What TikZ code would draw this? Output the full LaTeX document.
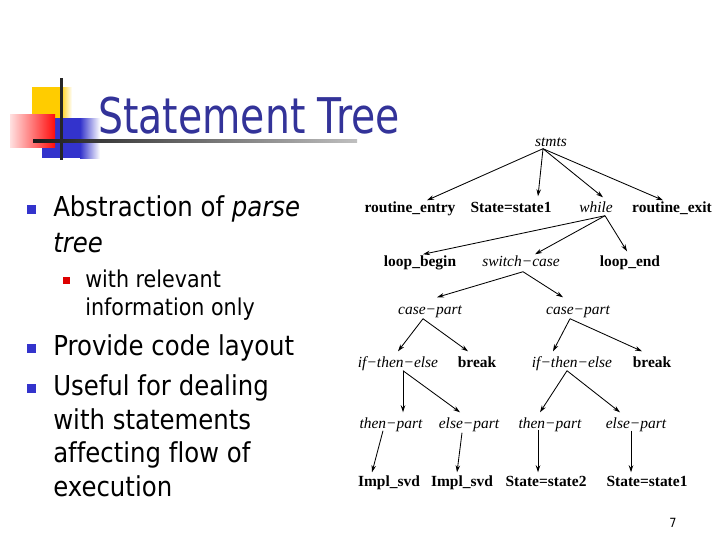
\documentclass[tikz,border=0pt]{standalone}
\usepackage{fontspec}
\setmainfont{Liberation Serif}
\newfontfamily\slidefont[FakeStretch=0.89,Ligatures={NoCommon}]{DejaVu Sans}
\newfontfamily\titlefont[FakeStretch=0.8,Ligatures={NoCommon}]{DejaVu Sans}
\usetikzlibrary{arrows.meta,calc}
\definecolor{titleblue}{HTML}{333399}
\definecolor{bulletblue}{HTML}{3333CC}
\definecolor{bulletred}{HTML}{DD0000}
\definecolor{decoyellow}{HTML}{FFCC00}

\begin{document}
\begin{tikzpicture}[x=0.025cm,y=-0.025cm,
  term/.style={font=\bfseries\fontsize{11}{13}\selectfont,inner sep=1pt,text height=7.5pt,text depth=2.5pt},
  nterm/.style={font=\itshape\fontsize{11}{13}\selectfont,inner sep=1pt,text height=7.5pt,text depth=2.5pt},
  arr/.style={-{Stealth[length=5pt,width=3.2pt]},line width=0.6pt},
  item/.style={anchor=base west,inner sep=0,font=\slidefont\fontsize{19.5}{23}\selectfont},
  subitem/.style={anchor=base west,inner sep=0,font=\slidefont\fontsize{16.5}{20}\selectfont},
  bullet/.style={fill=bulletblue,minimum size=6.4pt,inner sep=0},
  subbullet/.style={fill=bulletred,minimum size=5pt,inner sep=0}]
  \useasboundingbox (0,0) rectangle (720,540);

  % title decoration
  \fill[decoyellow] (32,87) rectangle (60,118);
  \shade[left color=decoyellow,right color=white] (60,87) rectangle (72,118);
  \fill[bulletblue] (42,118) rectangle (80,158);
  \shade[left color=bulletblue,right color=white] (80,118) rectangle (100,158);
  \shade[left color=red!12,right color=red!95] (10,114) rectangle (55,147);
  \fill[black!85] (59.5,78) rectangle (62.5,160);
  \shade[left color=black!90,right color=black!25] (33,139.5) rectangle (357,142.5);
  \node[anchor=base west,inner sep=0,text=titleblue,font=\titlefont\fontsize{35}{40}\selectfont]
    (title) at (98,133) {Statement Tree};

  % bullet list
  \node[bullet] (b1) at (31.5,209.5) {};
  \node[item] (t1) at (53,216) {Abstraction of \textit{parse}};
  \node[item] (t1b) at (53,252) {\textit{tree}};
  \node[subbullet] (s1) at (66.5,280.5) {};
  \node[subitem] (u1) at (85,287) {with relevant};
  \node[subitem] (u1b) at (85,315) {information only};
  \node[bullet] (b2) at (31.5,348) {};
  \node[item] (t2) at (53,355) {Provide code layout};
  \node[bullet] (b3) at (31.5,388) {};
  \node[item] (t3) at (53,395) {Useful for dealing};
  \node[item] (t3b) at (53,429) {with statements};
  \node[item] (t3c) at (53,462) {affecting flow of};
  \node[item] (t3d) at (53,496) {execution};

  % statement tree
  \node[nterm] (stmts)  at (551,143) {stmts};
  \node[term]  (rentry) at (410,209) {routine\_entry};
  \node[term]  (sstate) at (511,209) {State=state1};
  \node[nterm] (while)  at (596,209) {while};
  \node[term]  (rexit)  at (672,209) {routine\_exit};
  \node[term]  (lbegin) at (420,263) {loop\_begin};
  \node[nterm] (swcase) at (521,263) {switch−case};
  \node[term]  (lend)   at (630,263) {loop\_end};
  \node[nterm] (cpa)    at (430,311) {case−part};
  \node[nterm] (cpb)    at (578,311) {case−part};
  \node[nterm] (itea)   at (398,364) {if−then−else};
  \node[term]  (brka)   at (477,364) {break};
  \node[nterm] (iteb)   at (572,364) {if−then−else};
  \node[term]  (brkb)   at (652,364) {break};
  \node[nterm] (tpa)    at (391,425) {then−part};
  \node[nterm] (epa)    at (469,425) {else−part};
  \node[nterm] (tpb)    at (550,425) {then−part};
  \node[nterm] (epb)    at (636,425) {else−part};
  \node[term]  (impa)   at (389,483) {Impl\_svd};
  \node[term]  (impb)   at (462,483) {Impl\_svd};
  \node[term]  (sst2)   at (546,483) {State=state2};
  \node[term]  (sst1)   at (647,483) {State=state1};

  \draw[arr] ($(stmts.south)+(-8,-3)$) -- ($(rentry.north)+(17,0)$);
  \draw[arr] ($(stmts.south)+(-8,-3)$) -- ($(sstate.north)+(27,-4)$);
  \draw[arr] ($(stmts.south)+(-8,-3)$) -- ($(while.north)+(7,-3)$);
  \draw[arr] ($(stmts.south)+(-8,-3)$) -- ($(rexit.north)+(-9,0)$);
  \draw[arr] ($(while.south)+(9,-2)$) -- ($(lbegin.north)+(3,0)$);
  \draw[arr] ($(while.south)+(9,-2)$) -- ($(swcase.north)+(14,0)$);
  \draw[arr] ($(while.south)+(9,-2)$) -- ($(lend.north)+(-3,-3)$);
  \draw[arr] ($(swcase.south)+(2,0)$) -- ($(cpa.north)+(7,-5)$);
  \draw[arr] ($(swcase.south)+(2,0)$) -- ($(cpb.north)+(-15,-5)$);
  \draw[arr] ($(cpa.south)+(-7,-1)$) -- ($(itea.north)+(0,-4)$);
  \draw[arr] ($(cpa.south)+(-7,-1)$) -- ($(brka.north)+(-9,-4)$);
  \draw[arr] ($(cpb.south)+(-8,-1)$) -- ($(iteb.north)+(-19,-4)$);
  \draw[arr] ($(cpb.south)+(-8,-1)$) -- ($(brkb.north)+(-10,-4)$);
  \draw[arr] ($(itea.south)+(5,-2)$) -- ($(tpa.north)+(12,-4)$);
  \draw[arr] ($(itea.south)+(5,-2)$) -- ($(epa.north)+(-9,-4)$);
  \draw[arr] ($(iteb.south)+(-5,-2)$) -- ($(tpb.north)+(-10,-4)$);
  \draw[arr] ($(iteb.south)+(-5,-2)$) -- ($(epb.north)+(-16,-4)$);
  \draw[arr] ($(tpa.south)+(-8,-3)$) -- ($(impa.north)+(-17,-2)$);
  \draw[arr] ($(epa.south)+(-7,-1)$) -- ($(impb.north)+(-5,-2)$);
  \draw[arr] ($(tpb.south)+(-12,-4)$) -- ($(sst2.north)+(-8,-2)$);
  \draw[arr] ($(epb.south)+(-5,-3)$) -- ($(sst1.north)+(-16,-2)$);

  \node[font=\slidefont\fontsize{9}{10}\selectfont,inner sep=0] (pagenum) at (673,523) {7};
\end{tikzpicture}
\end{document}
